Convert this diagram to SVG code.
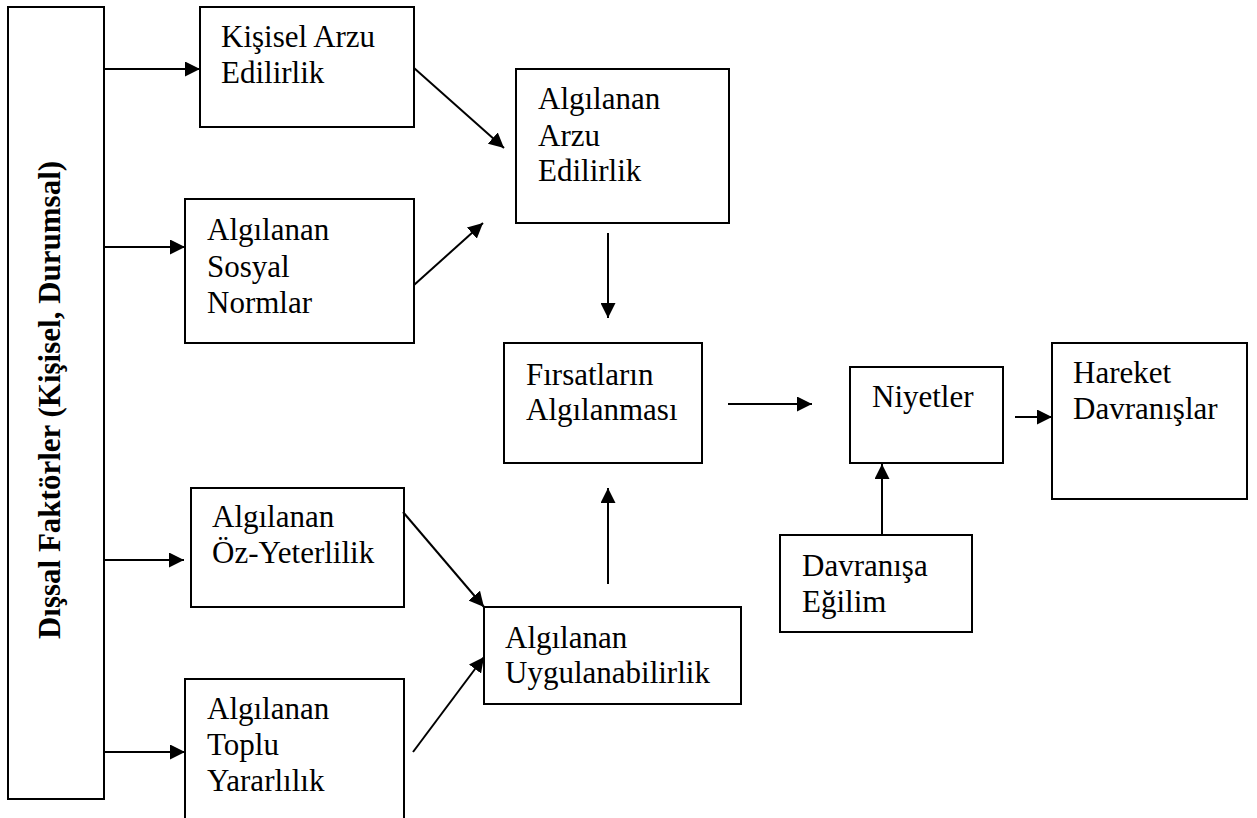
<svg xmlns="http://www.w3.org/2000/svg" width="1257" height="818" viewBox="0 0 1257 818">
<style>
.box{fill:#fff;stroke:#000;stroke-width:2}
.t{font-family:"Liberation Serif","Times New Roman",serif;font-size:31px;fill:#000}
.tb{font-family:"Liberation Serif","Times New Roman",serif;font-size:31px;font-weight:bold;fill:#000}
.c line{stroke:#000;stroke-width:2;marker-end:url(#ah)}
</style>
<defs>
<marker id="ah" viewBox="0 0 15 15" refX="15" refY="7.5" markerWidth="15" markerHeight="15" markerUnits="userSpaceOnUse" orient="auto">
<path d="M0,0 L15,7.5 L0,15 Z" fill="#000"/>
</marker>
</defs>
<rect width="1257" height="818" fill="#fff"/>
<g id="dissal">
<rect class="box" x="8" y="7" width="96" height="792"/>
<text class="tb" transform="translate(60,400) rotate(-90)" text-anchor="middle">Dışsal Faktörler (Kişisel, Durumsal)</text>
</g>
<g id="kisisel">
<rect class="box" x="200" y="7" width="214" height="120"/>
<text class="t" x="221" y="47">Kişisel Arzu</text>
<text class="t" x="221" y="83">Edilirlik</text>
</g>
<g id="sosyal">
<rect class="box" x="185" y="199" width="229" height="144"/>
<text class="t" x="207" y="240">Algılanan</text>
<text class="t" x="207" y="277">Sosyal</text>
<text class="t" x="207" y="313">Normlar</text>
</g>
<g id="arzu">
<rect class="box" x="516" y="69" width="213" height="154"/>
<text class="t" x="538" y="109">Algılanan</text>
<text class="t" x="538" y="146">Arzu</text>
<text class="t" x="538" y="181">Edilirlik</text>
</g>
<g id="firsat">
<rect class="box" x="504" y="343" width="198" height="120"/>
<text class="t" x="526" y="385">Fırsatların</text>
<text class="t" x="526" y="420">Algılanması</text>
</g>
<g id="niyetler">
<rect class="box" x="850" y="367" width="153" height="96"/>
<text class="t" x="872" y="407">Niyetler</text>
</g>
<g id="hareket">
<rect class="box" x="1052" y="343" width="195" height="156"/>
<text class="t" x="1073" y="383">Hareket</text>
<text class="t" x="1073" y="419">Davranışlar</text>
</g>
<g id="egilim">
<rect class="box" x="780" y="535" width="192" height="97"/>
<text class="t" x="802" y="576">Davranışa</text>
<text class="t" x="802" y="612">Eğilim</text>
</g>
<g id="ozyeterlilik">
<rect class="box" x="191" y="488" width="213" height="119"/>
<text class="t" x="212" y="527">Algılanan</text>
<text class="t" x="212" y="563">Öz-Yeterlilik</text>
</g>
<g id="toplu">
<rect class="box" x="185" y="679" width="219" height="160"/>
<text class="t" x="207" y="719">Algılanan</text>
<text class="t" x="207" y="755">Toplu</text>
<text class="t" x="207" y="791">Yararlılık</text>
</g>
<g id="uygulanabilirlik">
<rect class="box" x="484" y="607" width="257" height="97"/>
<text class="t" x="505" y="648">Algılanan</text>
<text class="t" x="505" y="683">Uygulanabilirlik</text>
</g>
<g id="connectors" class="c">
<line x1="104" y1="69" x2="200" y2="69"/>
<line x1="104" y1="247" x2="185" y2="247"/>
<line x1="104" y1="560" x2="184" y2="560"/>
<line x1="104" y1="752" x2="185" y2="752"/>
<line x1="414" y1="68" x2="504" y2="148"/>
<line x1="414" y1="285" x2="483" y2="223"/>
<line x1="608" y1="233" x2="608" y2="318"/>
<line x1="608" y1="584" x2="608" y2="488"/>
<line x1="403" y1="512" x2="484" y2="607"/>
<line x1="413" y1="752" x2="484" y2="657"/>
<line x1="728" y1="404" x2="812" y2="404"/>
<line x1="1015" y1="417" x2="1052" y2="417"/>
<line x1="882" y1="535" x2="882" y2="464"/>
</g>
</svg>
